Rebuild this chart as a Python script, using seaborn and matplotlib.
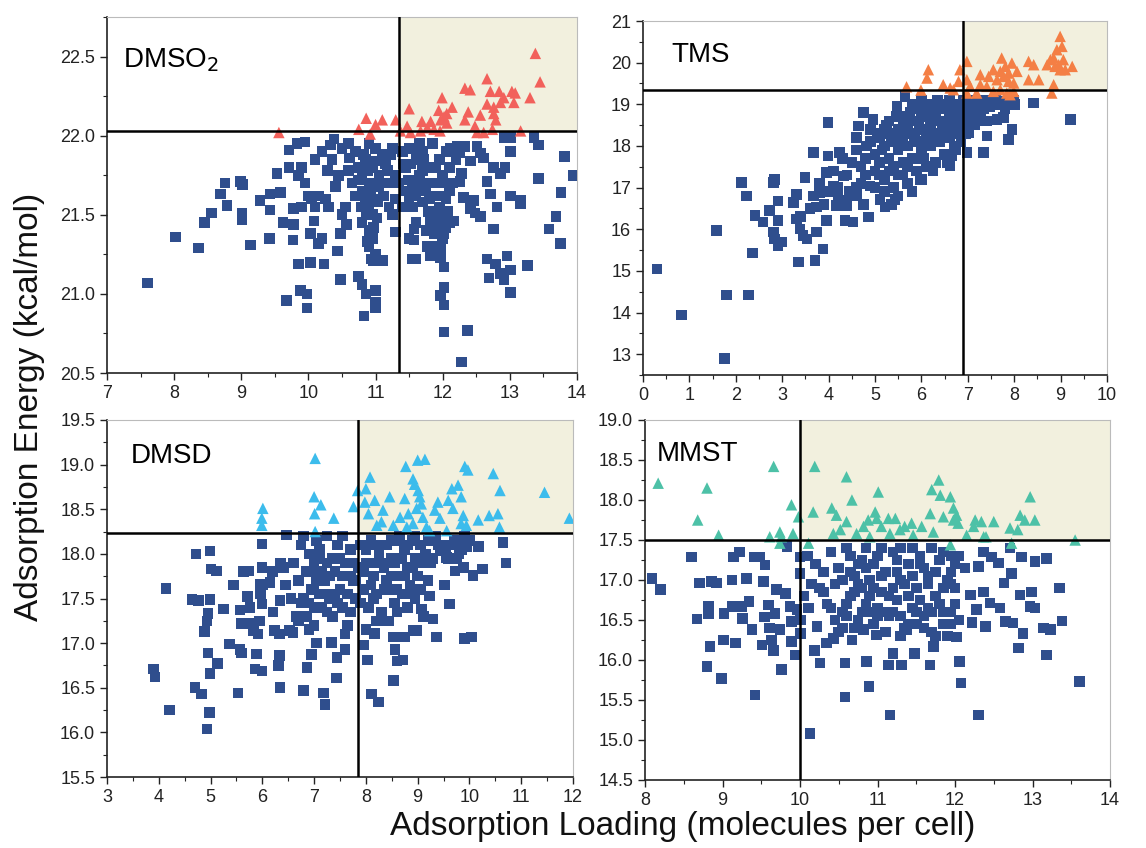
import matplotlib
matplotlib.use("Agg")
import matplotlib.pyplot as plt
import seaborn as sns
import pandas as pd
from matplotlib.ticker import MultipleLocator, AutoMinorLocator, FormatStrFormatter

# ---------------- DATA ----------------
# Panel 1: DMSO2
dmso2_sq_x = [7.6, 8.02, 8.36, 8.45, 8.56, 8.69, 8.76, 8.79, 8.99, 9.02, 9.01, 9.01, 9.14, 9.28, 9.43, 9.43, 9.42,
              9.53, 9.58, 9.62, 9.67, 9.71, 9.71, 9.78, 9.78, 9.77, 9.83, 9.95, 9.85, 9.88, 9.98, 9.98, 10.03, 10.03,
              10.08, 10.15, 10.23, 10.28, 10.33, 10.38, 10.43, 10.48, 10.48, 10.57, 10.61, 10.75, 10.80, 10.83, 10.86,
              11.00, 11.00, 11.00, 10.97, 11.10, 11.30, 11.55, 11.60, 11.57, 11.57, 11.77, 11.82, 11.97, 11.97, 12.02,
              11.97, 12.02, 12.02, 12.02, 12.37, 12.28, 12.66, 12.69, 12.79, 12.86, 12.91, 12.96, 13.01, 13.01, 12.76,
              12.71, 12.66, 12.81, 13.01, 13.16, 13.16, 13.26, 13.43, 13.43, 13.36, 13.58, 13.69, 13.75, 13.76, 13.81,
              13.95, 13.01, 12.93, 12.86, 13.01, 12.91, 12.76, 12.51, 12.56, 12.61, 12.46, 12.48, 12.56, 12.41, 12.33,
              12.41, 12.21, 12.26, 12.28, 12.26, 12.31, 12.16,
              10.7, 10.75, 10.8, 10.85, 10.9, 10.95, 11.0, 11.05, 11.1, 10.8, 10.85, 10.9, 10.95, 11.0, 10.9, 10.95,
              10.9, 11.0, 11.05, 11.15, 11.2, 11.25, 11.3, 11.3, 10.6, 10.65, 10.7, 10.55, 10.5, 10.45, 10.4, 10.35,
              10.2, 10.1, 10.05, 10.0, 9.95, 9.9, 9.85, 10.1, 10.15, 10.25, 10.3, 10.5, 10.6, 10.9, 10.8, 10.2, 9.9,
              11.4, 11.45, 11.5, 11.55, 11.6, 11.65, 11.7, 11.75, 11.8, 11.85, 11.9, 11.95, 12.0, 12.05, 12.1, 11.5,
              11.55, 11.45, 11.6, 11.7, 11.8, 11.85, 11.9, 11.95, 12.0, 12.05, 12.1, 12.0, 11.95, 12.05, 12.1, 11.65,
              11.4, 11.35, 11.25, 11.2, 11.5, 11.75, 11.85, 12.15, 12.2, 11.9, 11.6,
              10.75, 10.82, 10.88, 10.93, 10.98, 11.03, 11.08, 10.78, 10.86, 10.92, 11.02, 10.97, 10.93, 10.88, 11.12,
              11.18, 11.22, 11.6, 11.7, 11.8, 11.9, 12.0, 12.05, 11.98, 12.02, 11.92, 11.88, 12.08, 11.62, 11.72, 11.52,
              11.48, 11.58, 11.68, 11.78, 11.82, 12.12, 11.42]
dmso2_sq_y = [21.07, 21.36, 21.29, 21.45, 21.51, 21.63, 21.70, 21.56, 21.71, 21.69, 21.51, 21.47, 21.31, 21.59, 21.63,
              21.53, 21.35, 21.76, 21.64, 21.45, 20.96, 21.91, 21.80, 21.54, 21.44, 21.34, 21.95, 21.96, 21.19, 21.02,
              21.00, 20.91, 21.20, 21.38, 21.46, 21.32, 21.19, 21.78, 21.94, 21.98, 21.27, 21.09, 21.38, 21.44, 21.86,
              21.11, 21.06, 20.86, 21.00, 21.02, 20.95, 20.91, 21.21, 21.21, 21.39, 21.22, 21.22, 21.34, 21.41, 21.30,
              21.24, 21.30, 21.23, 21.17, 20.99, 20.93, 21.04, 20.76, 20.77, 20.57, 21.22, 21.10, 21.19, 21.13, 21.09,
              21.24, 21.15, 21.01, 21.41, 21.63, 21.71, 21.55, 21.62, 21.59, 21.57, 21.18, 21.73, 21.94, 21.99, 21.41,
              21.49, 21.32, 21.64, 21.87, 21.75, 21.90, 21.80, 21.76, 21.99, 21.99, 21.80, 21.93, 21.89, 21.86, 21.59,
              21.51, 21.49, 21.54, 21.93, 21.84, 21.93, 21.89, 21.76, 21.71, 21.61, 21.46,
              21.90, 21.80, 21.75, 21.85, 21.70, 21.80, 21.92, 21.75, 21.88, 21.65, 21.60, 21.55, 21.50, 21.60, 21.40,
              21.35, 21.30, 21.25, 21.68, 21.82, 21.70, 21.92, 21.60, 21.75, 21.78, 21.70, 21.62, 21.55, 21.50, 21.75,
              21.68, 21.85, 21.90, 21.85, 21.60, 21.62, 21.70, 21.80, 21.75, 21.55, 21.62, 21.60, 21.55, 21.92, 21.95,
              21.95, 21.45, 21.35, 21.55,
              21.90, 21.80, 21.92, 21.70, 21.85, 21.75, 21.90, 21.65, 21.80, 21.95, 21.70, 21.85, 21.75, 21.90, 21.80,
              21.60, 21.55, 21.65, 21.62, 21.58, 21.60, 21.50, 21.45, 21.40, 21.50, 21.42, 21.45, 21.35, 21.55, 21.60,
              21.65, 21.95, 21.55, 21.70, 21.50, 21.55, 21.35, 21.40, 21.30, 21.70, 21.85, 21.62, 21.45,
              21.72, 21.88, 21.78, 21.66, 21.84, 21.58, 21.70, 21.55, 21.50, 21.62, 21.48, 21.42, 21.22, 21.33, 21.62,
              21.78, 21.88, 21.72, 21.78, 21.70, 21.80, 21.62, 21.70, 21.45, 21.38, 21.52, 21.38, 21.52, 21.90, 21.85,
              21.82, 21.72, 21.65, 21.68, 21.52, 21.45, 21.92, 21.82]
dmso2_tri_x = [9.56, 10.75, 10.86, 10.92, 11.00, 11.10, 11.30, 11.50, 11.47, 11.52, 11.69, 11.82, 11.87, 11.94, 11.99,
               12.02, 12.06, 12.14, 11.96, 12.33, 12.41, 12.38, 12.33, 12.48, 12.51, 12.61, 12.56, 12.66, 12.66, 12.71,
               12.76, 12.79, 12.74, 12.84, 12.86, 12.91, 12.76, 13.03, 13.06, 13.08, 13.16, 13.30, 13.38, 13.45, 11.37,
               11.97, 12.06, 11.77, 11.67]
dmso2_tri_y = [22.02, 22.04, 22.11, 22.01, 22.07, 22.10, 22.10, 22.17, 22.06, 22.02, 22.09, 22.09, 22.04, 22.16, 22.24,
               22.12, 22.08, 22.18, 22.03, 22.30, 22.29, 22.15, 22.10, 22.06, 22.02, 22.02, 22.13, 22.36, 22.20, 22.28,
               22.18, 22.10, 22.04, 22.28, 22.21, 22.24, 22.14, 22.28, 22.21, 22.27, 22.03, 22.24, 22.52, 22.34, 22.03,
               22.10, 22.14, 22.05, 22.03]

# Panel 2: TMS
tms_sq_x = [0.30, 0.83, 1.76, 1.80, 2.27, 1.58, 2.12, 2.23, 2.36, 2.41, 2.59, 2.73, 2.81, 2.84, 2.91, 2.91, 2.81, 2.84,
            2.91, 2.99, 3.24, 3.31, 3.31, 3.38, 3.35, 3.45, 3.49, 3.53, 3.67, 3.67, 3.71, 3.74, 3.74, 3.81, 3.88, 3.96,
            3.99, 3.99, 3.96, 4.10, 4.17, 4.24, 4.32, 4.35, 4.39, 4.53, 4.60, 4.64, 4.75, 4.82, 4.86, 4.89, 4.96, 5.11,
            5.22, 5.43, 5.47, 5.65, 5.97, 6.62, 6.65, 6.98, 7.34, 7.41, 7.27, 7.63, 7.77, 7.88, 7.95, 8.02, 8.42, 9.21,
            7.84, 7.63, 7.48, 7.19, 7.12, 7.01,
            4.5, 4.6, 4.7, 4.8, 4.9, 5.0, 5.0, 5.1, 5.1, 5.2, 5.2, 5.3, 5.3, 5.4, 5.4, 5.5, 5.5, 5.6, 5.6, 5.7, 5.7, 5.8,
            5.8, 5.9, 5.9, 6.0, 6.0, 6.1, 6.1, 6.2, 6.2, 6.3, 6.3, 6.4, 6.4, 6.5, 6.5, 6.6, 6.6, 6.7, 6.7, 6.8, 6.8, 6.9,
            6.9, 7.0, 7.0, 7.1, 7.2, 7.3, 6.85, 6.75, 6.5, 6.3, 6.1, 5.9, 5.6, 5.4, 5.2, 5.0, 4.7, 4.4, 4.2, 4.0, 3.9,
            3.6, 3.4, 4.6, 4.9, 5.3, 5.6, 5.9, 6.2, 6.0, 5.8, 4.3, 4.1, 3.8, 6.6, 6.4, 7.5, 7.6, 7.8, 8.0, 7.4, 6.7,
            6.55, 5.7, 5.8, 6.0, 5.5, 5.35, 4.45, 4.75, 6.25,
            5.05, 5.15, 5.25, 5.35, 5.45, 5.55, 5.65, 5.75, 5.85, 5.95, 6.05, 6.15, 6.25, 6.35, 6.45, 6.55, 6.65, 6.75,
            6.85, 6.95, 7.05, 7.15, 7.25, 7.35, 7.45, 7.7, 7.9, 6.1, 6.3, 6.5, 6.7, 6.9, 6.0, 6.2, 6.4, 6.6, 6.8, 5.9,
            5.7, 5.5, 5.3, 5.1, 4.8, 4.6, 4.4, 4.2, 5.8, 5.6, 5.4, 5.2, 6.95, 7.15, 6.45, 6.05, 6.85, 6.65]
tms_sq_y = [15.05, 13.94, 12.90, 14.42, 14.42, 15.97, 17.12, 16.80, 15.43, 16.33, 16.17, 16.45, 17.12, 17.20, 16.68,
            16.21, 15.93, 15.77, 15.61, 15.69, 16.64, 16.84, 16.25, 16.01, 15.21, 15.85, 17.24, 15.77, 17.84, 16.80,
            15.25, 15.93, 16.53, 16.88, 15.53, 16.21, 18.56, 17.76, 17.36, 17.04, 16.57, 17.84, 17.28, 16.21, 16.57,
            16.17, 16.80, 18.48, 18.80, 18.00, 16.29, 17.04, 18.64, 16.72, 16.53, 16.72, 18.95, 19.19, 17.20, 17.52,
            17.76, 17.84, 17.84, 18.24, 18.72, 18.64, 18.68, 18.16, 18.40, 18.99, 19.03, 18.64, 19.07, 19.03, 18.95,
            19.03, 18.72, 18.32,
            17.6, 17.9, 17.5, 17.7, 18.1, 17.8, 17.4, 18.2, 17.6, 18.0, 17.2, 18.3, 17.7, 18.1, 17.5, 18.4, 17.9, 18.2,
            17.6, 18.5, 18.0, 18.3, 17.7, 18.6, 18.1, 18.4, 17.9, 18.7, 18.2, 18.5, 18.0, 18.8, 18.3, 18.6, 18.1, 18.9,
            18.4, 18.7, 18.2, 19.0, 18.5, 18.8, 18.3, 19.1, 18.6, 18.9, 18.5, 19.1, 18.8, 19.1, 18.1, 17.9, 17.8, 17.6,
            17.5, 17.4, 17.3, 17.0, 16.9, 17.0, 17.1, 17.3, 17.0, 16.9, 16.6, 16.5, 16.3, 18.2, 18.4, 18.6, 18.7, 18.9,
            19.0, 19.1, 19.0, 17.7, 17.4, 17.1, 19.1, 19.0, 19.1, 19.1, 18.9, 19.1, 18.6, 18.0, 17.6, 17.1, 16.9, 17.2,
            16.8, 16.6, 16.9, 16.6, 17.4,
            18.3, 17.9, 18.5, 18.2, 18.7, 18.0, 18.4, 18.8, 18.2, 18.5, 18.9, 18.4, 18.7, 19.1, 18.5, 18.9, 18.4, 18.7,
            19.0, 18.3, 18.7, 18.9, 18.6, 18.9, 19.0, 19.0, 19.0, 18.0, 18.1, 18.2, 18.4, 18.4, 18.7, 18.8, 18.9, 18.6,
            18.6, 17.7, 17.5, 17.3, 17.4, 17.3, 17.3, 17.0, 16.7, 16.8, 18.6, 18.5, 18.3, 18.4, 18.95, 18.5, 18.35,
            17.7, 18.85, 18.85]
tms_tri_x = [5.68, 5.99, 6.15, 6.12, 6.47, 6.62, 6.80, 6.83, 6.98, 6.98, 7.05, 6.98, 7.27, 7.19, 7.45, 7.55, 7.63, 7.73,
             7.77, 7.81, 7.88, 7.95, 7.99, 7.70, 7.55, 7.84, 7.91, 7.99, 8.06, 7.88, 8.31, 8.42, 8.31, 8.53, 8.71, 8.81,
             8.85, 8.85, 8.92, 8.99, 9.03, 8.96, 9.06, 9.10, 8.99, 8.88, 9.25, 8.78, 7.41, 6.69, 7.27, 7.70]
tms_tri_y = [19.42, 19.34, 19.83, 19.63, 19.47, 19.39, 19.55, 19.83, 20.03, 19.59, 19.43, 19.27, 19.47, 19.27, 19.67,
             19.83, 19.59, 20.11, 19.67, 19.91, 19.75, 19.99, 19.51, 19.35, 19.31, 19.27, 19.23, 19.31, 19.79, 19.55,
             20.03, 19.95, 19.59, 19.59, 19.95, 19.27, 19.47, 20.11, 20.31, 20.63, 20.39, 19.95, 20.07, 19.83, 19.83,
             19.91, 19.91, 20.07, 19.43, 19.35, 19.71, 19.79]

# Panel 3: DMSD
dmsd_sq_x = [3.90, 3.93, 4.14, 4.21, 4.64, 4.72, 4.77, 4.70, 4.83, 4.88, 4.93, 4.95, 4.93, 4.95, 4.98, 4.99, 4.99, 4.99,
             5.01, 5.12, 5.13, 5.25, 5.37, 5.44, 5.53, 5.57, 5.57, 5.60, 5.60, 5.64, 5.73, 5.71, 5.76, 5.78, 5.83, 5.86,
             5.89, 5.92, 5.94, 5.99, 5.99, 5.99, 5.96, 5.96, 5.99, 6.15, 6.21, 6.24, 6.31, 6.33, 6.34, 6.33, 6.34, 6.41,
             6.47, 6.53, 6.59, 6.79, 6.86, 6.95, 7.18, 7.21, 7.34, 7.43, 7.44, 7.60, 7.69, 7.95, 8.03, 8.11, 8.24, 8.17,
             8.37, 8.53, 8.53, 8.56, 8.60, 8.72, 8.75, 8.91, 8.98, 9.07, 9.11, 9.20, 9.30, 9.36, 9.23, 9.52, 9.62, 9.72,
             9.88, 9.91, 10.04, 10.07, 10.17, 10.25, 10.65, 10.71, 9.56, 9.43, 9.81, 9.94,
             6.6, 6.7, 6.75, 6.8, 6.85, 6.9, 6.95, 7.0, 7.0, 7.05, 7.1, 7.15, 7.2, 7.25, 7.3, 7.35, 7.4, 7.45, 7.5, 7.55,
             7.6, 7.65, 7.7, 7.75, 7.8, 7.85, 7.9, 7.95, 8.0, 8.05, 8.1, 8.15, 8.2, 8.25, 8.3, 8.35, 8.4, 8.45, 8.5,
             8.55, 8.6, 8.65, 8.7, 8.75, 8.8, 8.85, 8.9, 8.95, 9.0, 9.05, 9.1, 9.2, 9.3, 9.35, 9.5, 9.6, 9.7, 9.8, 9.9,
             10.0, 6.55, 6.65, 6.45, 6.9, 7.05, 7.1, 7.45, 7.7, 8.0, 8.2, 8.45, 8.6, 8.8, 8.95, 8.4, 7.6, 7.75, 8.1,
             8.65, 7.25, 6.8, 7.55, 6.35, 6.2, 6.0,
             7.0, 7.05, 7.1, 7.15, 7.2, 6.95, 6.85, 6.75, 6.7, 7.3, 7.4, 7.5, 7.55, 7.65, 7.7, 7.8, 7.9, 7.95, 8.0, 8.1,
             8.15, 8.3, 8.35, 8.5, 8.55, 8.6, 8.7, 8.75, 8.8, 8.85, 8.9, 9.0, 9.05, 9.15, 9.25, 9.4, 9.55, 9.65, 9.75,
             9.85, 8.95, 8.5, 8.2, 7.35, 7.25, 7.0, 6.9]
dmsd_sq_y = [16.71, 16.62, 17.61, 16.25, 17.49, 18.00, 17.48, 16.50, 16.43, 17.13, 16.04, 16.89, 17.25, 17.33, 16.22,
             16.66, 18.03, 17.49, 17.83, 17.81, 16.77, 17.38, 16.99, 17.65, 16.44, 17.37, 16.93, 16.89, 17.22, 17.80,
             17.81, 17.52, 17.40, 17.22, 17.14, 16.71, 16.88, 17.10, 17.25, 16.69, 18.11, 17.85, 17.66, 17.55, 17.44,
             17.68, 17.35, 17.14, 16.75, 16.86, 16.50, 17.10, 17.48, 17.85, 18.21, 17.14, 17.12, 16.47, 16.73, 16.87,
             16.44, 16.31, 17.01, 16.61, 16.84, 16.93, 17.35, 16.98, 16.81, 16.43, 16.34, 17.11, 17.25, 16.58, 17.07,
             16.93, 16.80, 16.81, 17.07, 17.14, 17.14, 17.38, 17.30, 17.70, 17.27, 17.07, 17.53, 17.65, 17.44, 17.81,
             17.85, 17.05, 17.07, 17.76, 18.08, 17.83, 18.13, 17.90, 17.96, 18.04, 18.15, 18.08,
             17.9, 17.7, 18.1, 17.5, 17.3, 18.0, 17.8, 17.6, 17.2, 18.15, 17.95, 17.4, 17.7, 17.9, 17.5, 17.3, 17.8,
             18.1, 17.6, 17.4, 17.9, 17.2, 18.05, 17.7, 17.5, 17.85, 18.1, 17.6, 17.9, 17.4, 18.15, 17.75, 17.55, 18.0,
             17.35, 17.85, 18.1, 17.6, 17.95, 17.45, 18.15, 17.75, 17.55, 18.05, 17.85, 17.65, 18.15, 17.95, 17.75,
             18.1, 17.9, 18.15, 17.95, 18.2, 18.1, 17.95, 18.15, 18.0, 18.2, 18.15, 17.5, 17.3, 17.65, 17.45, 17.0,
             17.55, 17.45, 17.35, 17.15, 17.25, 17.25, 17.35, 17.4, 17.5, 17.7, 17.1, 17.9, 17.65, 18.2, 18.2, 18.2,
             18.2, 17.9, 17.8, 17.65,
             17.9, 17.7, 18.05, 17.8, 17.55, 17.6, 17.8, 17.45, 17.25, 17.75, 17.55, 17.95, 17.75, 17.55, 17.75, 17.7,
             17.45, 17.8, 18.05, 17.9, 17.5, 17.9, 17.6, 17.75, 17.9, 17.6, 17.95, 17.75, 18.1, 17.55, 17.85, 17.95,
             17.6, 18.0, 17.9, 18.1, 18.0, 18.1, 17.95, 18.05, 18.2, 18.15, 18.1, 17.95, 17.35, 17.4, 17.15]
dmsd_tri_x = [6.01, 5.99, 5.99, 7.02, 7.00, 7.01, 7.02, 7.13, 7.38, 7.76, 7.84, 8.00, 7.98, 8.08, 8.05, 8.17, 8.21, 8.30,
              8.46, 8.53, 8.77, 8.75, 8.82, 8.91, 8.94, 9.00, 9.14, 9.01, 9.04, 9.07, 8.98, 9.10, 8.91, 9.17, 9.33, 9.39,
              9.43, 9.56, 9.59, 9.68, 9.66, 9.78, 9.84, 9.88, 9.91, 9.97, 9.84, 9.94, 10.17, 10.38, 10.46, 10.55, 10.59,
              10.58, 11.45, 11.93, 8.66, 8.33, 9.23, 8.79]
dmsd_tri_y = [18.51, 18.40, 18.32, 19.07, 18.64, 18.45, 18.25, 18.55, 18.40, 18.53, 18.71, 18.73, 18.58, 18.86, 18.45,
              18.60, 18.32, 18.36, 18.64, 18.32, 18.98, 18.62, 18.45, 18.84, 18.78, 19.05, 19.06, 18.71, 18.64, 18.56,
              18.51, 18.41, 18.34, 18.30, 18.49, 18.58, 18.40, 18.26, 18.60, 18.51, 18.73, 18.77, 18.64, 18.43, 18.98,
              18.94, 18.34, 18.32, 18.38, 18.43, 18.90, 18.45, 18.71, 18.30, 18.69, 18.40, 18.41, 18.49, 18.26, 18.30]

# Panel 4: MMST
mmst_sq_x = [8.09, 8.20, 8.60, 8.67, 8.70, 8.80, 8.82, 8.82, 8.84, 8.86, 8.92, 8.99, 9.01, 9.02, 9.12, 9.12, 9.14, 9.17,
             9.22, 9.25, 9.26, 9.31, 9.34, 9.38, 9.41, 9.42, 9.48, 9.51, 9.53, 9.55, 9.54, 9.61, 9.63, 9.66, 9.59, 9.68,
             9.70, 9.74, 9.76, 9.81, 9.83, 9.87, 9.89, 9.89, 9.94, 9.96, 10.00, 10.01, 10.01, 10.00, 10.13, 10.19,
             10.22, 10.26, 10.11, 10.34, 10.43, 10.58, 10.58, 10.67, 10.82, 10.86, 10.89, 10.99, 11.14, 11.16, 11.20,
             11.31, 11.38, 11.48, 11.68, 11.72, 12.02, 12.06, 12.08, 12.30, 12.22, 12.28, 12.39, 12.37, 12.45, 12.58,
             12.65, 12.75, 12.82, 12.84, 12.88, 12.97, 12.99, 13.03, 13.18, 13.14, 13.23, 13.35, 13.38, 13.61, 13.18,
             13.03, 12.86, 12.73, 12.63, 12.56, 12.47, 12.30, 12.20, 12.13, 12.71, 12.37,
             10.2, 10.25, 10.3, 10.35, 10.4, 10.45, 10.5, 10.55, 10.6, 10.65, 10.7, 10.75, 10.8, 10.85, 10.9, 10.95,
             11.0, 11.05, 11.1, 11.15, 11.2, 11.25, 11.3, 11.35, 11.4, 11.45, 11.5, 11.55, 11.6, 11.65, 11.7, 11.75,
             11.8, 11.85, 11.9, 11.95, 12.0, 12.0, 11.95, 11.85, 11.7, 11.65, 11.75, 11.9, 12.05, 11.5, 11.3, 11.1,
             10.9, 10.7, 10.5, 10.6, 10.8, 11.0, 11.2, 11.4, 11.6, 10.4, 10.3, 10.15, 10.1, 10.05, 11.05, 10.85, 11.3,
             11.45, 10.65, 10.75,
             10.55, 10.65, 10.75, 10.85, 10.95, 11.05, 11.15, 11.25, 11.35, 11.45, 11.55, 11.65, 11.75, 11.85, 11.95,
             12.0, 11.95, 11.85, 11.8, 11.7, 10.6, 10.7, 10.8, 10.9, 11.0, 11.1, 11.2, 11.3, 11.4, 10.45, 10.55, 11.5,
             11.6, 12.05, 11.95, 10.95, 11.25, 11.55]
mmst_sq_y = [17.02, 16.88, 17.29, 16.51, 16.96, 15.92, 16.67, 16.58, 16.17, 16.98, 16.96, 15.77, 16.25, 16.58, 17.00,
             16.67, 17.29, 16.21, 17.35, 16.67, 16.52, 17.02, 16.73, 16.38, 17.29, 15.56, 17.29, 16.19, 16.98, 17.19,
             16.54, 16.40, 16.25, 16.12, 16.69, 16.58, 16.88, 16.38, 15.88, 16.83, 17.42, 16.67, 16.48, 16.23, 16.06,
             16.63, 17.08, 16.33, 16.50, 17.29, 15.08, 16.12, 16.42, 15.96, 16.65, 16.21, 16.27, 15.54, 15.96, 16.25,
             16.38, 15.98, 15.67, 16.31, 15.94, 15.31, 16.08, 15.94, 16.38, 16.08, 15.94, 16.17, 16.29, 15.98, 15.71,
             15.31, 16.47, 16.63, 16.42, 16.85, 16.71, 16.65, 16.48, 16.46, 16.15, 16.81, 16.33, 16.67, 16.85, 16.65,
             16.06, 16.40, 16.38, 16.90, 16.49, 15.73, 17.27, 17.23, 17.29, 17.08, 16.96, 17.21, 17.29, 17.17, 16.81,
             17.15, 17.40, 17.35,
             17.2, 16.9, 17.1, 16.7, 17.35, 16.95, 17.15, 16.6, 17.4, 16.8, 17.05, 16.5, 17.25, 16.7, 17.0, 16.45, 17.3,
             16.85, 17.1, 16.55, 17.35, 16.75, 17.0, 16.4, 17.2, 16.65, 16.9, 17.3, 16.55, 17.05, 16.35, 16.8, 17.25,
             16.6, 17.0, 16.45, 17.2, 16.7, 16.95, 17.35, 17.4, 16.65, 16.3, 16.3, 16.5, 16.45, 16.3, 16.35, 16.6, 16.4,
             16.35, 16.55, 16.9, 16.65, 16.9, 16.8, 17.15, 16.65, 16.85, 16.95, 17.3, 16.8, 17.4, 17.4, 17.4, 17.4,
             17.3, 17.2,
             17.0, 17.1, 16.95, 17.15, 16.9, 17.05, 16.8, 17.1, 16.95, 17.05, 16.75, 16.95, 17.1, 16.9, 17.1, 16.9,
             16.6, 16.45, 16.7, 16.6, 16.7, 16.85, 16.6, 16.8, 16.55, 16.6, 16.6, 16.55, 16.45, 16.5, 16.4, 16.6, 16.4,
             17.3, 17.3, 17.2, 17.25, 17.2]
mmst_tri_x = [8.17, 8.68, 8.80, 8.95, 9.66, 9.61, 9.74, 9.76, 9.74, 9.89, 9.91, 9.98, 10.11, 10.19, 10.17, 10.41, 10.47,
              10.60, 10.60, 10.52, 10.43, 10.67, 10.73, 10.82, 10.88, 10.97, 11.01, 10.99, 11.05, 10.90, 11.14, 11.16,
              11.23, 11.29, 11.35, 11.44, 11.46, 11.57, 11.68, 11.70, 11.79, 11.81, 11.72, 11.85, 11.94, 11.98, 11.98,
              12.02, 12.04, 11.94, 12.15, 12.26, 12.34, 12.40, 12.50, 12.71, 12.73, 12.81, 12.84, 12.90, 12.97, 13.03,
              13.55, 12.37, 12.24]
mmst_tri_y = [18.21, 17.75, 18.15, 17.56, 18.42, 17.54, 17.60, 17.54, 17.46, 17.94, 17.58, 17.79, 17.46, 18.42, 17.85,
              17.90, 17.81, 18.29, 17.73, 17.63, 17.58, 18.00, 17.58, 17.67, 17.75, 17.85, 18.10, 17.77, 17.67, 17.54,
              17.77, 17.58, 17.77, 17.63, 17.67, 17.71, 17.56, 17.67, 17.83, 18.13, 18.25, 18.06, 17.60, 17.79, 18.04,
              17.90, 17.75, 17.81, 17.71, 17.44, 17.56, 17.75, 17.73, 17.54, 17.73, 17.65, 17.46, 17.63, 17.81, 17.75,
              18.04, 17.75, 17.50, 17.54, 17.67]

panel_names = ["DMSO$_2$", "TMS", "DMSD", "MMST"]
thresh_x = [11.35, 6.9, 7.85, 10.0]
thresh_y = [22.03, 19.35, 18.23, 17.5]
xlims = [(7, 14), (0, 10), (3, 12), (8, 14)]
ylims = [(20.5, 22.75), (12.5, 21), (15.5, 19.5), (14.5, 19)]
xmajor = [1, 1, 1, 1]
ymajor = [0.5, 1, 0.5, 0.5]
tri_colors = ["#f2615b", "#f47f45", "#3cbcec", "#4dc1a7"]
sq_color = "#2f4e8d"
shade_color = "#f2f0de"

squares = [(dmso2_sq_x, dmso2_sq_y), (tms_sq_x, tms_sq_y), (dmsd_sq_x, dmsd_sq_y), (mmst_sq_x, mmst_sq_y)]
triangles = [(dmso2_tri_x, dmso2_tri_y), (tms_tri_x, tms_tri_y), (dmsd_tri_x, dmsd_tri_y), (mmst_tri_x, mmst_tri_y)]

# ---------------- PLOT ----------------
sns.set_style("ticks")
plt.rcParams['font.family'] = ['Liberation Sans', 'DejaVu Sans']

fig = plt.figure(figsize=(11.46, 8.48), dpi=100)
positions = [
    [107 / 1146, (848 - 373) / 848, 470 / 1146, 356 / 848],
    [643 / 1146, (848 - 375) / 848, 464 / 1146, 354 / 848],
    [107 / 1146, (848 - 777) / 848, 466 / 1146, 357 / 848],
    [645 / 1146, (848 - 780) / 848, 465 / 1146, 360 / 848],
]
label_pos = [(0.034, 0.86), (0.062, 0.885), (0.05, 0.88), (0.026, 0.885)]

for i in range(4):
    ax = fig.add_axes(positions[i])
    x0, x1 = xlims[i]
    y0, y1 = ylims[i]
    ax.fill_between([thresh_x[i], x1], thresh_y[i], y1, color=shade_color, zorder=0, linewidth=0)
    sq = pd.DataFrame({"x": squares[i][0], "y": squares[i][1]})
    tr = pd.DataFrame({"x": triangles[i][0], "y": triangles[i][1]})
    sns.scatterplot(data=sq, x="x", y="y", marker="s", s=58, color=sq_color, edgecolor="none",
                    ax=ax, zorder=3, legend=False)
    sns.scatterplot(data=tr, x="x", y="y", marker="^", s=68, color=tri_colors[i], edgecolor="none",
                    ax=ax, zorder=3, legend=False)
    ax.axvline(thresh_x[i], color="black", lw=1.8, zorder=4)
    ax.axhline(thresh_y[i], color="black", lw=1.8, zorder=4)
    ax.set_xlim(x0, x1)
    ax.set_ylim(y0, y1)
    ax.set_xlabel("")
    ax.set_ylabel("")
    ax.xaxis.set_major_locator(MultipleLocator(xmajor[i]))
    ax.yaxis.set_major_locator(MultipleLocator(ymajor[i]))
    ax.xaxis.set_minor_locator(AutoMinorLocator(2))
    ax.yaxis.set_minor_locator(AutoMinorLocator(2))
    if ymajor[i] == 0.5:
        ax.yaxis.set_major_formatter(FormatStrFormatter("%.1f"))
    ax.tick_params(which="major", direction="out", length=5, width=1.0, labelsize=13, colors="#222222")
    ax.tick_params(which="minor", direction="out", length=3, width=0.8, colors="#222222")
    for side in ["left", "bottom"]:
        ax.spines[side].set_color("#222222")
        ax.spines[side].set_linewidth(1.2)
    for side in ["top", "right"]:
        ax.spines[side].set_color("#bbbbbb")
        ax.spines[side].set_linewidth(0.8)
    ax.text(label_pos[i][0], label_pos[i][1], panel_names[i], transform=ax.transAxes, fontsize=20,
            color="black", ha="left", va="baseline")

fig.text(30 / 1146, 0.52, "Adsorption Energy (kcal/mol)", rotation=90, ha="center", va="center",
         fontsize=24, color="#111111")
fig.text(683 / 1146, 22 / 848, "Adsorption Loading (molecules per cell)", ha="center", va="center",
         fontsize=24, color="#111111")

fig.savefig("out.png", dpi=100)
